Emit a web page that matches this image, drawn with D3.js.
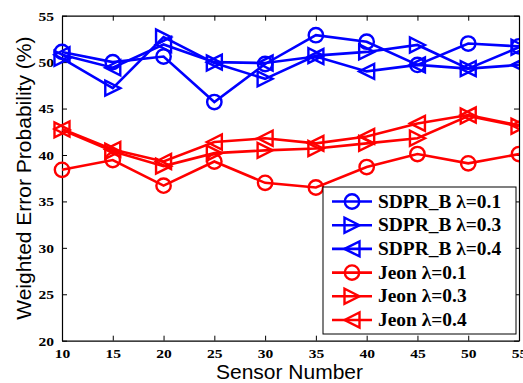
<!DOCTYPE html>
<html>
<head>
<meta charset="utf-8">
<script src="https://cdn.jsdelivr.net/npm/d3@7"></script>
<style>
  html, body { margin: 0; padding: 0; background: #fff; }
  svg { display: block; }
</style>
</head>
<body>
<svg id="chart" width="523" height="383"></svg>
<script>
// Sensor counts on the x axis
const sensors = [10, 15, 20, 25, 30, 35, 40, 45, 50, 55];

// Weighted error probability (%) per method and lambda
const sdprL01 = [51.1, 50.0, 50.6, 45.7, 49.8, 52.9, 52.2, 49.7, 52.0, 51.7];
const sdprL03 = [50.4, 47.2, 52.7, 49.9, 48.2, 50.7, 51.1, 51.85, 49.3, 51.6];
const sdprL04 = [50.8, 49.4, 51.9, 50.0, 49.9, 50.6, 49.0, 49.7, 49.3, 49.7];
const jeonL01 = [38.4, 39.45, 36.7, 39.3, 37.0, 36.5, 38.7, 40.1, 39.1, 40.1];
const jeonL03 = [42.7, 40.4, 38.8, 40.2, 40.5, 40.7, 41.25, 41.8, 44.2, 43.1];
const jeonL04 = [42.8, 40.6, 39.3, 41.4, 41.8, 41.25, 42.0, 43.4, 44.3, 43.2];

const xTicks = [10, 15, 20, 25, 30, 35, 40, 45, 50, 55];
const yTicks = [20, 25, 30, 35, 40, 45, 50, 55];

const seriesList = [
  { name: "SDPR_B \u03bb=0.1", values: sdprL01, color: "#0000ff", marker: "circle" },
  { name: "SDPR_B \u03bb=0.3", values: sdprL03, color: "#0000ff", marker: "right" },
  { name: "SDPR_B \u03bb=0.4", values: sdprL04, color: "#0000ff", marker: "left" },
  { name: "Jeon \u03bb=0.1", values: jeonL01, color: "#ff0000", marker: "circle" },
  { name: "Jeon \u03bb=0.3", values: jeonL03, color: "#ff0000", marker: "right" },
  { name: "Jeon \u03bb=0.4", values: jeonL04, color: "#ff0000", marker: "left" }
];

const W = 523, H = 383;
const margin = { left: 62, top: 15.7, right: 4, bottom: 42.3 };
const pw = W - margin.left - margin.right;
const ph = H - margin.top - margin.bottom;

const svg = d3.select("#chart");
const serif = "'Liberation Serif', 'Times New Roman', serif";
const sans = "'Liberation Sans', Arial, sans-serif";

const x = d3.scaleLinear().domain([10, 55]).range([0, pw]);
const y = d3.scaleLinear().domain([20, 55]).range([ph, 0]);

const g = svg.append("g").attr("transform", `translate(${margin.left},${margin.top})`);

// Clip on the right edge of the axes box only
svg.append("defs").append("clipPath").attr("id", "plotClip")
  .append("rect").attr("x", -margin.left).attr("y", -margin.top)
  .attr("width", margin.left + pw).attr("height", H);

// Marker path generators
const R = 7.2;
function markerPath(type) {
  if (type === "circle") return d3.symbol(d3.symbolCircle, Math.PI * R * R)();
  const s = 7.5;
  if (type === "right") return `M${s},0L${-s},${-s}L${-s},${s}Z`;
  return `M${-s},0L${s},${-s}L${s},${s}Z`;
}

// Axes: inward ticks on all four sides
const tickLen = 5;
const tickPad = 8;
const labelStretch = 1.15;
const axisBottom = d3.axisBottom(x).tickValues(xTicks).tickSizeInner(-tickLen).tickSizeOuter(0).tickPadding(tickPad);
const axisLeft = d3.axisLeft(y).tickValues(yTicks).tickSizeInner(-tickLen).tickSizeOuter(0).tickPadding(tickPad);
const axisTop = d3.axisTop(x).tickValues(xTicks).tickSizeInner(-tickLen).tickSizeOuter(0).tickFormat("");
const axisRight = d3.axisRight(y).tickValues(yTicks).tickSizeInner(-tickLen).tickSizeOuter(0).tickFormat("");

function styleAxis(sel) {
  sel.selectAll("path.domain").attr("stroke", "#000").attr("stroke-width", 1.2);
  sel.selectAll(".tick line").attr("stroke", "#000").attr("stroke-width", 1);
  sel.selectAll(".tick text")
    .attr("fill", "#000")
    .style("font-family", serif)
    .style("font-weight", "bold")
    .style("font-size", "13.5px");
}

g.append("g").attr("transform", `translate(0,${ph})`).call(axisBottom).call(styleAxis)
  .selectAll(".tick text").attr("transform", `scale(${labelStretch},1)`);
g.append("g").call(axisLeft).call(styleAxis)
  .selectAll(".tick text")
  .attr("transform", `translate(${tickPad * (labelStretch - 1)},0) scale(${labelStretch},1)`);
g.append("g").call(axisTop).call(styleAxis);
g.append("g").attr("transform", `translate(${pw},0)`).call(axisRight).call(styleAxis);

// Series lines and markers
const line = d3.line().x((d, i) => x(sensors[i])).y(d => y(d));
const plot = g.append("g").attr("clip-path", "url(#plotClip)");

seriesList.forEach(s => {
  plot.append("path")
    .datum(s.values)
    .attr("d", line)
    .attr("fill", "none")
    .attr("stroke", s.color)
    .attr("stroke-width", 2.6)
    .attr("stroke-linejoin", "miter");
  plot.selectAll(null)
    .data(s.values)
    .enter().append("path")
    .attr("transform", (d, i) => `translate(${x(sensors[i])},${y(d)})`)
    .attr("d", markerPath(s.marker))
    .attr("fill", "none")
    .attr("stroke", s.color)
    .attr("stroke-width", 2.4);
});

// Axis titles
svg.append("text")
  .attr("x", margin.left + pw / 2 - 1)
  .attr("y", 379)
  .attr("text-anchor", "middle")
  .style("font-family", sans)
  .style("font-size", "21px")
  .attr("fill", "#000")
  .text("Sensor Number");

svg.append("text")
  .attr("transform", `translate(31,${margin.top + ph / 2}) rotate(-90)`)
  .attr("text-anchor", "middle")
  .style("font-family", sans)
  .style("font-size", "21px")
  .attr("fill", "#000")
  .text("Weighted Error Probability (%)");

// Legend
const lg = svg.append("g").attr("transform", "translate(323,187)");
lg.append("rect")
  .attr("width", 193).attr("height", 147)
  .attr("fill", "#fff").attr("stroke", "#000").attr("stroke-width", 1);

const legendStretch = 1.08;
seriesList.forEach((s, i) => {
  const cy = 14.5 + i * 23.7;
  const row = lg.append("g").attr("transform", `translate(0,${cy})`);
  row.append("line")
    .attr("x1", 9).attr("x2", 49).attr("y1", 0).attr("y2", 0)
    .attr("stroke", s.color).attr("stroke-width", 2.6);
  row.append("path")
    .attr("transform", "translate(29,0)")
    .attr("d", markerPath(s.marker))
    .attr("fill", "none").attr("stroke", s.color).attr("stroke-width", 2.4);
  row.append("text")
    .attr("transform", `translate(55,6) scale(${legendStretch},1)`)
    .style("font-family", serif)
    .style("font-weight", "bold")
    .style("font-size", "18px")
    .attr("fill", "#000")
    .text(s.name);
});
</script>
</body>
</html>
